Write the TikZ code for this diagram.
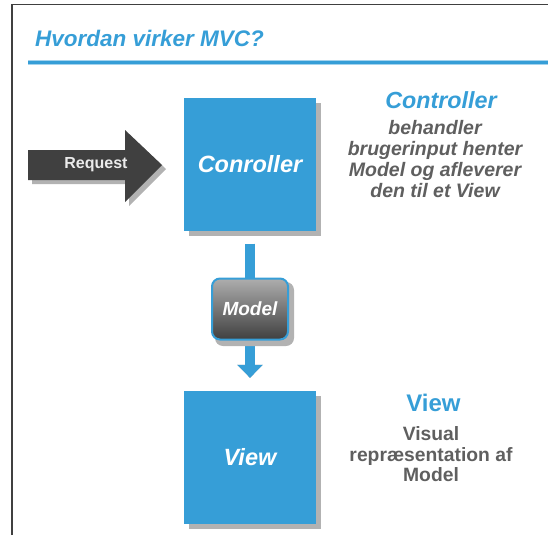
\documentclass[tikz,border=0pt]{standalone}
\usepackage{fontspec}
\setmainfont{Liberation Sans}
\usetikzlibrary{arrows.meta,shadings}
\definecolor{mvcblue}{RGB}{54,158,215}
\definecolor{arrowgray}{RGB}{64,64,64}
\definecolor{textgray}{RGB}{95,95,95}
\definecolor{shadowgray}{RGB}{178,178,178}
\tikzset{
  bluebox/.style={fill=mvcblue, minimum width=132pt, minimum height=133pt, inner sep=0pt,
    text=white, font=\bfseries\itshape\fontsize{23.5}{26}\selectfont},
  boxshadow/.style={fill=shadowgray, minimum width=132pt, minimum height=133pt, inner sep=0pt},
  headline/.style={text=mvcblue, font=\bfseries\itshape\fontsize{23.3}{26}\selectfont},
  infotext/.style={text=textgray, align=center, font=\bfseries\fontsize{19.3}{20.5}\selectfont},
}
\begin{document}
\begin{tikzpicture}[x=1pt,y=-1pt]
\useasboundingbox (0,0) rectangle (548,535);
% frame
\draw[line width=1.5pt, arrowgray] (12,535) -- (12,4.5) -- (548,4.5);
% title and rule
\node[anchor=west, inner sep=0pt, text=mvcblue, font=\bfseries\itshape\fontsize{22.5}{24}\selectfont] (title) at (35,38) {Hvordan virker MVC?};
\draw[line width=5pt, mvcblue!45] (28,62) -- (548,62);
\draw[line width=3pt, mvcblue] (28,62) -- (548,62);

% request arrow with shadow
\fill[shadowgray] (32,154) -- (129,154) -- (129,134) -- (166,169) -- (129,206) -- (129,184) -- (32,184) -- cycle;
\fill[arrowgray] (28,150) -- (125,150) -- (125,130) -- (162,165) -- (125,202) -- (125,180) -- (28,180) -- cycle;
\node[text=white!92!black, font=\bfseries\fontsize{16}{18}\selectfont] (req) at (96,165) {Request};

% controller and view boxes
\node[boxshadow] at (255,169) {};
\node[bluebox] (ctrl) at (250,164) {Conroller};
\node[boxshadow] at (255,462) {};
\node[bluebox] (view) at (250,457) {View};

% model flow arrow
\coordinate (a1) at ([yshift=-13pt]ctrl.south);
\coordinate (a2) at ([yshift=12.5pt]view.north);
\draw[line width=10pt, shadowgray, -{Triangle[width=25pt,length=13pt]}, shift={(4pt,-4pt)}] (a1) -- (a2);
\draw[line width=10pt, mvcblue, -{Triangle[width=25pt,length=13pt]}] (a1) -- (a2);
\fill[shadowgray, rounded corners=8pt] (215,282) rectangle (294,346);
\node[draw=mvcblue, line width=2pt, rounded corners=8pt, top color=black!32, bottom color=black!75,
  minimum width=76pt, minimum height=61pt, inner sep=0pt, text=white,
  font=\bfseries\itshape\fontsize{19}{21}\selectfont] (model) at (250,309) {Model};

% descriptions
\node[headline] (ctrlhead) at (441,100) {Controller};
\node[infotext, font=\bfseries\itshape\fontsize{19.5}{21}\selectfont, anchor=north] (ctrltext) at (435,116.5)
  {behandler\\brugerinput henter\\Model og afleverer\\den til et View};
\node[headline, font=\bfseries\fontsize{24}{26}\selectfont] (viewhead) at (433.5,403) {View};
\node[infotext, anchor=north] (viewtext) at (431,423) {Visual\\repræsentation af\\Model};
\end{tikzpicture}
\end{document}
